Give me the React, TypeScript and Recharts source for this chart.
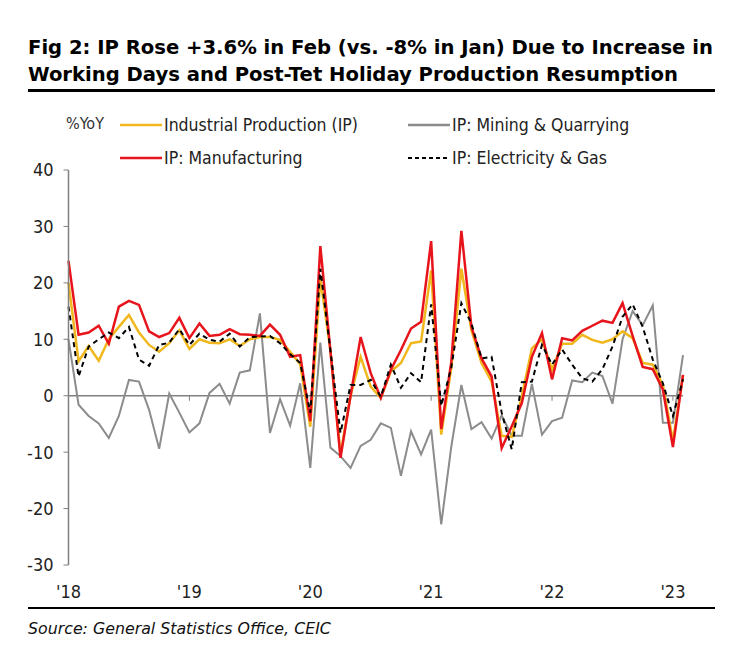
import React from 'react';
import { LineChart, Line, XAxis, YAxis, ReferenceLine } from 'recharts';

// Monthly %YoY, Jan 2018 .. Feb 2023 (62 months)
const MONTH_INDEX = Array.from({ length: 62 }, (_, i) => i);

const IP_TOTAL = [
  20, 6.1, 8.8, 6.2, 10, 12.2, 14.3, 11.2, 9, 7.8, 9.3, 11.6,
  8.3, 10, 9.4, 9.3, 10, 8.8, 10, 10.4, 10.4, 9.9, 7.8, 5.6,
  -5.5, 20.8, 8, -10.4, 0, 6.9, 1.6, -0.4, 4.3, 5.8, 9.3, 9.6,
  22.2, -6.9, 5, 22.5, 11.6, 5.8, 2.5, -7.1, -7.3, -0.1, 8.4, 10,
  4.6, 9.2, 9.2, 10.8, 9.9, 9.4, 10, 11.4, 10.2, 5.8, 5.5, 1.9,
  -8, 3.6,
];

const IP_MANUFACTURING = [
  23.9, 10.8, 11.2, 12.4, 9.2, 15.8, 16.8, 16.1, 11.4, 10.4, 11.1, 13.8,
  10.2, 12.8, 10.6, 10.8, 11.8, 10.9, 10.8, 10.6, 12.6, 10.8, 6.9, 7.2,
  -4.5, 26.5, 8, -11, 0, 10.4, 4, -0.4, 4.6, 8.1, 11.9, 13.1,
  27.4, -5.9, 6, 29.2, 12.2, 6.6, 3.4, -9.3, -5.4, -1.3, 6.9, 11.1,
  2.9, 10.2, 9.8, 11.5, 12.4, 13.3, 12.9, 16.4, 10.6, 5.1, 4.7, 1.1,
  -9.1, 3.7,
];

const IP_MINING = [
  10, -1.6, -3.6, -4.9, -7.5, -3.6, 2.8, 2.5, -2.5, -9.4, 0.4, -3,
  -6.5, -4.9, 0.5, 2.1, -1.4, 4.1, 4.5, 14.6, -6.6, -0.6, -5.3, 2.2,
  -12.8, 9.4, -9.2, -10.7, -12.8, -8.9, -7.8, -4.9, -5.7, -14.2, -6.3, -10.4,
  -6, -22.8, -9, 1.9, -5.9, -4.7, -7.6, -3.5, -7.1, -7.1, 2.1, -6.9,
  -4.5, -3.9, 2.7, 2.4, 4.1, 3.5, -1.4, 10, 15, 12.5, 16, -4.8,
  -4.8, 7.2,
];

const IP_ELECTRICITY = [
  15.8, 3.4, 8.7, 10, 11.2, 10.2, 12.2, 6.4, 5.3, 9, 9.4, 11.8,
  9, 11, 9.9, 9.6, 11, 8.7, 10.4, 10.5, 10.6, 9.3, 7.4, 5.8,
  -3, 22.5, 8, -6.6, 1.9, 1.9, 2.8, -0.2, 5.5, 1.4, 4, 2.4,
  16.2, -1.8, 5, 16.4, 12.8, 6.6, 6.9, -3, -9.5, 2.4, 2.5, 9,
  5.5, 8.2, 5.5, 3.1, 2.5, 4.7, 8.7, 14, 16.2, 12.2, 6.4, 2.2,
  -3.6, 2.9,
];

const YEAR_TICKS = [0, 12, 24, 36, 48, 60];
const YEAR_LABELS = ["'18", "'19", "'20", "'21", "'22", "'23"];
const Y_TICKS = [-30, -20, -10, 0, 10, 20, 30, 40];

const COLORS = {
  ip: '#F0B81C',
  mfg: '#E8141C',
  mining: '#8C8C8C',
  elec: '#000000',
  axis: '#808080',
  text: '#222222',
};

const NARROW = "'Liberation Sans Narrow', 'DejaVu Sans Condensed', 'Liberation Sans', sans-serif";
const WIDE = "'DejaVu Sans', Verdana, sans-serif";

const data = MONTH_INDEX.map(i => ({
  i,
  ip: IP_TOTAL[i],
  mfg: IP_MANUFACTURING[i],
  mining: IP_MINING[i],
  elec: IP_ELECTRICITY[i],
}));

function LegendItem({ x, y, color, label, dashed }: { x: number; y: number; color: string; label: string; dashed?: boolean }) {
  return (
    <div style={{ position: 'absolute', left: x, top: y - 11, height: 22, display: 'flex', alignItems: 'center' }}>
      <svg width={42} height={6} style={{ marginRight: 2 }}>
        <line x1={0} y1={3} x2={42} y2={3} stroke={color} strokeWidth={dashed ? 2 : 2.5} strokeDasharray={dashed ? '4 3' : undefined} />
      </svg>
      <span style={{ fontFamily: NARROW, fontSize: 17.5, color: COLORS.text, whiteSpace: 'nowrap' }}>{label}</span>
    </div>
  );
}

export default function App() {
  return (
    <div style={{ position: 'absolute', left: 0, top: 0, width: 731, height: 653, background: '#fff', overflow: 'hidden' }}>
      <div style={{ position: 'absolute', left: 28, top: 34, fontFamily: WIDE, fontWeight: 'bold', fontSize: 19.6, lineHeight: '27px', color: '#000', whiteSpace: 'nowrap' }}>
        <div>Fig 2: IP Rose +3.6% in Feb (vs. -8% in Jan) Due to Increase in</div>
        <div>Working Days and Post-Tet Holiday Production Resumption</div>
      </div>
      <div style={{ position: 'absolute', left: 28, top: 89, width: 687, height: 3, background: '#000' }} />

      <div style={{ position: 'absolute', left: 66, top: 114, fontFamily: NARROW, fontSize: 16, color: '#333' }}>%YoY</div>
      <LegendItem x={120} y={125} color={COLORS.ip} label="Industrial Production (IP)" />
      <LegendItem x={120} y={158} color={COLORS.mfg} label="IP: Manufacturing" />
      <LegendItem x={408} y={125} color={COLORS.mining} label="IP: Mining & Quarrying" />
      <LegendItem x={408} y={158} color={COLORS.elec} label="IP: Electricity & Gas" dashed />

      <div style={{ position: 'absolute', left: 0, top: 0 }}>
        <LineChart width={731} height={653} data={data} margin={{ top: 170, right: 48, bottom: 58, left: 28.5 }}>
          <XAxis
            type="number"
            dataKey="i"
            domain={[0, 61]}
            ticks={YEAR_TICKS}
            tickFormatter={(v: number) => YEAR_LABELS[YEAR_TICKS.indexOf(v)]}
            axisLine={false}
            tickLine={false}
            tickSize={0}
            tickMargin={20}
            height={30}
            tick={{ fontFamily: NARROW, fontSize: 18, fill: COLORS.text }}
            interval={0}
          />
          <YAxis
            domain={[-30, 40]}
            ticks={Y_TICKS}
            width={40}
            axisLine={{ stroke: COLORS.axis, strokeWidth: 1.5 }}
            tickLine={{ stroke: COLORS.axis }}
            tickSize={5}
            tickMargin={10}
            tick={{ fontFamily: NARROW, fontSize: 18, fill: COLORS.text }}
            interval={0}
          />
          <ReferenceLine y={0} stroke={COLORS.axis} strokeWidth={1.5} />
          {YEAR_TICKS.map(t => (
            <ReferenceLine key={t} segment={[{ x: t, y: 0 }, { x: t, y: -0.9 }]} stroke={COLORS.axis} strokeWidth={1} />
          ))}
          <Line type="linear" dataKey="mining" stroke={COLORS.mining} strokeWidth={2} dot={false} isAnimationActive={false} />
          <Line type="linear" dataKey="ip" stroke={COLORS.ip} strokeWidth={2.5} dot={false} isAnimationActive={false} />
          <Line type="linear" dataKey="mfg" stroke={COLORS.mfg} strokeWidth={2.5} dot={false} isAnimationActive={false} />
          <Line type="linear" dataKey="elec" stroke={COLORS.elec} strokeWidth={2} strokeDasharray="5 4" dot={false} isAnimationActive={false} />
        </LineChart>
      </div>

      <div style={{ position: 'absolute', left: 28, top: 607, width: 687, height: 2, background: '#000' }} />
      <div style={{ position: 'absolute', left: 28, top: 619, fontFamily: WIDE, fontStyle: 'italic', fontSize: 15.8, color: '#111' }}>
        Source: General Statistics Office, CEIC
      </div>
    </div>
  );
}
